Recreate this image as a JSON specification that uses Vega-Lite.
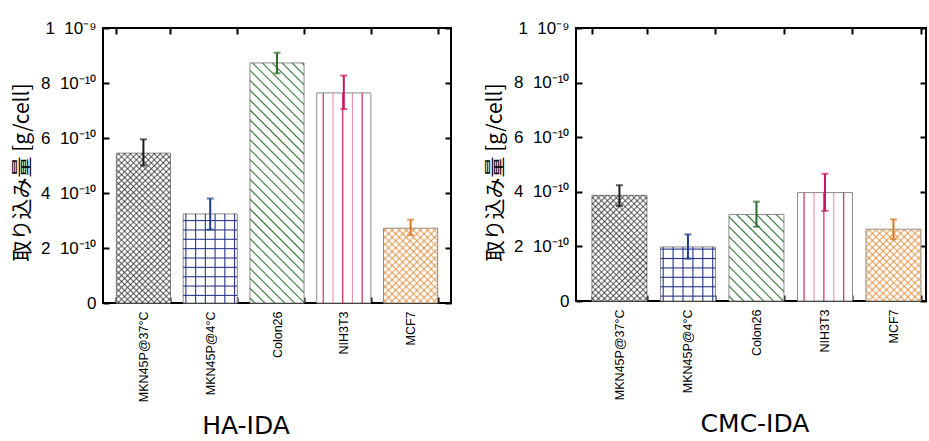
{
"$schema":"https://vega.github.io/schema/vega-lite/v6.json",
"background":"white",
"autosize":{"type":"pad"},
"padding":{"left":10,"top":18,"right":0,"bottom":0},
"config":{"view":{"stroke":"#000","strokeWidth":2},"axis":{"grid":false}},
"datasets":{
"ha":[
{"cell":"MKN45P@37°C","v":5.45e-10,"lo":5.0e-10,"hi":5.95e-10},
{"cell":"MKN45P@4°C","v":3.24e-10,"lo":2.67e-10,"hi":3.8e-10},
{"cell":"Colon26","v":8.73e-10,"lo":8.35e-10,"hi":9.1e-10},
{"cell":"NIH3T3","v":7.64e-10,"lo":7.05e-10,"hi":8.27e-10},
{"cell":"MCF7","v":2.72e-10,"lo":2.47e-10,"hi":3.03e-10}],
"cmc":[
{"cell":"MKN45P@37°C","v":3.87e-10,"lo":3.48e-10,"hi":4.24e-10},
{"cell":"MKN45P@4°C","v":1.98e-10,"lo":1.55e-10,"hi":2.44e-10},
{"cell":"Colon26","v":3.17e-10,"lo":2.72e-10,"hi":3.64e-10},
{"cell":"NIH3T3","v":3.97e-10,"lo":3.30e-10,"hi":4.66e-10},
{"cell":"MCF7","v":2.63e-10,"lo":2.26e-10,"hi":2.99e-10}]
},
"spacing":30,
"hconcat":[
{
"data":{"name":"ha"},
"width":348,"height":275,
"title":{"text":"HA-IDA","orient":"bottom","anchor":"middle","frame":"group","font":"DejaVu Sans","fontSize":25,"fontWeight":"normal","color":"#000","offset":12,"dx":-31},
"encoding":{
"x":{"field":"cell","type":"nominal","sort":null,"scale":{"paddingInner":0.19,"paddingOuter":0.2},"axis":null},
"y":{"field":"v","type":"quantitative","scale":{"domain":[0,1e-9]},"axis":null}},
"resolve":{"axis":{"x":"independent","y":"independent"}},
"layer":[
{"mark":{"type":"bar","fill":"#fff","stroke":"#8a8a8a","strokeWidth":1},
"encoding":{
"x":{"field":"cell","type":"nominal","sort":null,"scale":{"paddingInner":0.19,"paddingOuter":0.2},"axis":{"orient":"bottom","title":null,"labelAngle":-90,"labelAlign":"right","labelBaseline":"middle","labelFont":"Liberation Sans","labelFontSize":12.5,"labelColor":"#000","domain":false,"ticks":true,"tickSize":-6,"tickWidth":2,"tickColor":"#000","tickBand":"extent","labelPadding":14}},
"y":{"field":"v","type":"quantitative","scale":{"domain":[0,1e-9]},"axis":{"orient":"left","title":"取り込み量 [g/cell]","titleFont":"Noto Sans CJK JP","titleFontSize":21,"titleFontWeight":"normal","titleColor":"#000","titlePadding":8,"titleY":144,"values":[0,2e-10,4e-10,6e-10,8e-10,1e-9],"labelExpr":"datum.value < 1e-12 ? '0' : datum.value > 9.9e-10 ? '1\u00a0\u00a010⁻⁹' : round(datum.value*1e10) + '\u00a0\u00a010⁻¹⁰'","labelFont":"Liberation Sans","labelFontSize":17,"labelColor":"#000","domain":false,"tickSize":-6,"tickWidth":2,"tickColor":"#000","labelPadding":13}}}},
{"transform":[{"filter":"datum.cell==='MKN45P@37°C'"}],"mark":{"type":"bar","fill":{"gradient":"linear","x1":0,"y1":0,"x2":0.505,"y2":1.402,"stops":[
{"offset":0.006,"color":"#2220"},{"offset":0.0125,"color":"#222a"},{"offset":0.019,"color":"#2220"},
{"offset":0.031,"color":"#2220"},{"offset":0.0375,"color":"#222a"},{"offset":0.044,"color":"#2220"},
{"offset":0.056,"color":"#2220"},{"offset":0.0625,"color":"#222a"},{"offset":0.069,"color":"#2220"},
{"offset":0.081,"color":"#2220"},{"offset":0.0875,"color":"#222a"},{"offset":0.094,"color":"#2220"},
{"offset":0.106,"color":"#2220"},{"offset":0.1125,"color":"#222a"},{"offset":0.119,"color":"#2220"},
{"offset":0.131,"color":"#2220"},{"offset":0.1375,"color":"#222a"},{"offset":0.144,"color":"#2220"},
{"offset":0.156,"color":"#2220"},{"offset":0.1625,"color":"#222a"},{"offset":0.169,"color":"#2220"},
{"offset":0.181,"color":"#2220"},{"offset":0.1875,"color":"#222a"},{"offset":0.194,"color":"#2220"},
{"offset":0.206,"color":"#2220"},{"offset":0.2125,"color":"#222a"},{"offset":0.219,"color":"#2220"},
{"offset":0.231,"color":"#2220"},{"offset":0.2375,"color":"#222a"},{"offset":0.244,"color":"#2220"},
{"offset":0.256,"color":"#2220"},{"offset":0.2625,"color":"#222a"},{"offset":0.269,"color":"#2220"},
{"offset":0.281,"color":"#2220"},{"offset":0.2875,"color":"#222a"},{"offset":0.294,"color":"#2220"},
{"offset":0.306,"color":"#2220"},{"offset":0.3125,"color":"#222a"},{"offset":0.319,"color":"#2220"},
{"offset":0.331,"color":"#2220"},{"offset":0.3375,"color":"#222a"},{"offset":0.344,"color":"#2220"},
{"offset":0.356,"color":"#2220"},{"offset":0.3625,"color":"#222a"},{"offset":0.369,"color":"#2220"},
{"offset":0.381,"color":"#2220"},{"offset":0.3875,"color":"#222a"},{"offset":0.394,"color":"#2220"},
{"offset":0.406,"color":"#2220"},{"offset":0.4125,"color":"#222a"},{"offset":0.419,"color":"#2220"},
{"offset":0.431,"color":"#2220"},{"offset":0.4375,"color":"#222a"},{"offset":0.444,"color":"#2220"},
{"offset":0.456,"color":"#2220"},{"offset":0.4625,"color":"#222a"},{"offset":0.469,"color":"#2220"},
{"offset":0.481,"color":"#2220"},{"offset":0.4875,"color":"#222a"},{"offset":0.494,"color":"#2220"},
{"offset":0.506,"color":"#2220"},{"offset":0.5125,"color":"#222a"},{"offset":0.519,"color":"#2220"},
{"offset":0.531,"color":"#2220"},{"offset":0.5375,"color":"#222a"},{"offset":0.544,"color":"#2220"},
{"offset":0.556,"color":"#2220"},{"offset":0.5625,"color":"#222a"},{"offset":0.569,"color":"#2220"},
{"offset":0.581,"color":"#2220"},{"offset":0.5875,"color":"#222a"},{"offset":0.594,"color":"#2220"},
{"offset":0.606,"color":"#2220"},{"offset":0.6125,"color":"#222a"},{"offset":0.619,"color":"#2220"},
{"offset":0.631,"color":"#2220"},{"offset":0.6375,"color":"#222a"},{"offset":0.644,"color":"#2220"},
{"offset":0.656,"color":"#2220"},{"offset":0.6625,"color":"#222a"},{"offset":0.669,"color":"#2220"},
{"offset":0.681,"color":"#2220"},{"offset":0.6875,"color":"#222a"},{"offset":0.694,"color":"#2220"},
{"offset":0.706,"color":"#2220"},{"offset":0.7125,"color":"#222a"},{"offset":0.719,"color":"#2220"},
{"offset":0.731,"color":"#2220"},{"offset":0.7375,"color":"#222a"},{"offset":0.744,"color":"#2220"},
{"offset":0.756,"color":"#2220"},{"offset":0.7625,"color":"#222a"},{"offset":0.769,"color":"#2220"},
{"offset":0.781,"color":"#2220"},{"offset":0.7875,"color":"#222a"},{"offset":0.794,"color":"#2220"},
{"offset":0.806,"color":"#2220"},{"offset":0.8125,"color":"#222a"},{"offset":0.819,"color":"#2220"},
{"offset":0.831,"color":"#2220"},{"offset":0.8375,"color":"#222a"},{"offset":0.844,"color":"#2220"},
{"offset":0.856,"color":"#2220"},{"offset":0.8625,"color":"#222a"},{"offset":0.869,"color":"#2220"}]}}},
{"transform":[{"filter":"datum.cell==='MKN45P@37°C'"}],"mark":{"type":"bar","fill":{"gradient":"linear","x1":0,"y1":1,"x2":0.505,"y2":-0.402,"stops":[
{"offset":0.006,"color":"#2220"},{"offset":0.0125,"color":"#222a"},{"offset":0.019,"color":"#2220"},
{"offset":0.031,"color":"#2220"},{"offset":0.0375,"color":"#222a"},{"offset":0.044,"color":"#2220"},
{"offset":0.056,"color":"#2220"},{"offset":0.0625,"color":"#222a"},{"offset":0.069,"color":"#2220"},
{"offset":0.081,"color":"#2220"},{"offset":0.0875,"color":"#222a"},{"offset":0.094,"color":"#2220"},
{"offset":0.106,"color":"#2220"},{"offset":0.1125,"color":"#222a"},{"offset":0.119,"color":"#2220"},
{"offset":0.131,"color":"#2220"},{"offset":0.1375,"color":"#222a"},{"offset":0.144,"color":"#2220"},
{"offset":0.156,"color":"#2220"},{"offset":0.1625,"color":"#222a"},{"offset":0.169,"color":"#2220"},
{"offset":0.181,"color":"#2220"},{"offset":0.1875,"color":"#222a"},{"offset":0.194,"color":"#2220"},
{"offset":0.206,"color":"#2220"},{"offset":0.2125,"color":"#222a"},{"offset":0.219,"color":"#2220"},
{"offset":0.231,"color":"#2220"},{"offset":0.2375,"color":"#222a"},{"offset":0.244,"color":"#2220"},
{"offset":0.256,"color":"#2220"},{"offset":0.2625,"color":"#222a"},{"offset":0.269,"color":"#2220"},
{"offset":0.281,"color":"#2220"},{"offset":0.2875,"color":"#222a"},{"offset":0.294,"color":"#2220"},
{"offset":0.306,"color":"#2220"},{"offset":0.3125,"color":"#222a"},{"offset":0.319,"color":"#2220"},
{"offset":0.331,"color":"#2220"},{"offset":0.3375,"color":"#222a"},{"offset":0.344,"color":"#2220"},
{"offset":0.356,"color":"#2220"},{"offset":0.3625,"color":"#222a"},{"offset":0.369,"color":"#2220"},
{"offset":0.381,"color":"#2220"},{"offset":0.3875,"color":"#222a"},{"offset":0.394,"color":"#2220"},
{"offset":0.406,"color":"#2220"},{"offset":0.4125,"color":"#222a"},{"offset":0.419,"color":"#2220"},
{"offset":0.431,"color":"#2220"},{"offset":0.4375,"color":"#222a"},{"offset":0.444,"color":"#2220"},
{"offset":0.456,"color":"#2220"},{"offset":0.4625,"color":"#222a"},{"offset":0.469,"color":"#2220"},
{"offset":0.481,"color":"#2220"},{"offset":0.4875,"color":"#222a"},{"offset":0.494,"color":"#2220"},
{"offset":0.506,"color":"#2220"},{"offset":0.5125,"color":"#222a"},{"offset":0.519,"color":"#2220"},
{"offset":0.531,"color":"#2220"},{"offset":0.5375,"color":"#222a"},{"offset":0.544,"color":"#2220"},
{"offset":0.556,"color":"#2220"},{"offset":0.5625,"color":"#222a"},{"offset":0.569,"color":"#2220"},
{"offset":0.581,"color":"#2220"},{"offset":0.5875,"color":"#222a"},{"offset":0.594,"color":"#2220"},
{"offset":0.606,"color":"#2220"},{"offset":0.6125,"color":"#222a"},{"offset":0.619,"color":"#2220"},
{"offset":0.631,"color":"#2220"},{"offset":0.6375,"color":"#222a"},{"offset":0.644,"color":"#2220"},
{"offset":0.656,"color":"#2220"},{"offset":0.6625,"color":"#222a"},{"offset":0.669,"color":"#2220"},
{"offset":0.681,"color":"#2220"},{"offset":0.6875,"color":"#222a"},{"offset":0.694,"color":"#2220"},
{"offset":0.706,"color":"#2220"},{"offset":0.7125,"color":"#222a"},{"offset":0.719,"color":"#2220"},
{"offset":0.731,"color":"#2220"},{"offset":0.7375,"color":"#222a"},{"offset":0.744,"color":"#2220"},
{"offset":0.756,"color":"#2220"},{"offset":0.7625,"color":"#222a"},{"offset":0.769,"color":"#2220"},
{"offset":0.781,"color":"#2220"},{"offset":0.7875,"color":"#222a"},{"offset":0.794,"color":"#2220"},
{"offset":0.806,"color":"#2220"},{"offset":0.8125,"color":"#222a"},{"offset":0.819,"color":"#2220"},
{"offset":0.831,"color":"#2220"},{"offset":0.8375,"color":"#222a"},{"offset":0.844,"color":"#2220"},
{"offset":0.856,"color":"#2220"},{"offset":0.8625,"color":"#222a"},{"offset":0.869,"color":"#2220"}]}}},
{"transform":[{"filter":"datum.cell==='MKN45P@4°C'"}],"mark":{"type":"bar","fill":{"gradient":"linear","x1":0,"y1":0,"x2":1,"y2":0,"stops":[
{"offset":0.03,"color":"#2380"},{"offset":0.05,"color":"#238"},{"offset":0.07,"color":"#2380"},
{"offset":0.21,"color":"#2380"},{"offset":0.23,"color":"#238"},{"offset":0.25,"color":"#2380"},
{"offset":0.39,"color":"#2380"},{"offset":0.41,"color":"#238"},{"offset":0.43,"color":"#2380"},
{"offset":0.57,"color":"#2380"},{"offset":0.59,"color":"#238"},{"offset":0.61,"color":"#2380"},
{"offset":0.75,"color":"#2380"},{"offset":0.77,"color":"#238"},{"offset":0.79,"color":"#2380"},
{"offset":0.93,"color":"#2380"},{"offset":0.95,"color":"#238"},{"offset":0.97,"color":"#2380"}]}}},
{"transform":[{"filter":"datum.cell==='MKN45P@4°C'"}],"mark":{"type":"bar","fill":{"gradient":"linear","x1":0,"y1":1,"x2":0,"y2":0,"stops":[
{"offset":0.073,"color":"#2380"},{"offset":0.085,"color":"#238"},{"offset":0.097,"color":"#2380"},
{"offset":0.178,"color":"#2380"},{"offset":0.19,"color":"#238"},{"offset":0.202,"color":"#2380"},
{"offset":0.283,"color":"#2380"},{"offset":0.295,"color":"#238"},{"offset":0.307,"color":"#2380"},
{"offset":0.388,"color":"#2380"},{"offset":0.4,"color":"#238"},{"offset":0.412,"color":"#2380"},
{"offset":0.493,"color":"#2380"},{"offset":0.505,"color":"#238"},{"offset":0.517,"color":"#2380"},
{"offset":0.598,"color":"#2380"},{"offset":0.61,"color":"#238"},{"offset":0.622,"color":"#2380"},
{"offset":0.703,"color":"#2380"},{"offset":0.715,"color":"#238"},{"offset":0.727,"color":"#2380"},
{"offset":0.808,"color":"#2380"},{"offset":0.82,"color":"#238"},{"offset":0.832,"color":"#2380"},
{"offset":0.913,"color":"#2380"},{"offset":0.925,"color":"#238"},{"offset":0.937,"color":"#2380"}]}}},
{"transform":[{"filter":"datum.cell==='Colon26'"}],"mark":{"type":"bar","fill":{"gradient":"linear","x1":0,"y1":1,"x2":0.353,"y2":-0.570,"stops":[
{"offset":0.0085,"color":"#3730"},{"offset":0.0125,"color":"#373"},{"offset":0.0165,"color":"#3730"},
{"offset":0.0335,"color":"#3730"},{"offset":0.0375,"color":"#373"},{"offset":0.0415,"color":"#3730"},
{"offset":0.0585,"color":"#3730"},{"offset":0.0625,"color":"#373"},{"offset":0.0665,"color":"#3730"},
{"offset":0.0835,"color":"#3730"},{"offset":0.0875,"color":"#373"},{"offset":0.0915,"color":"#3730"},
{"offset":0.1085,"color":"#3730"},{"offset":0.1125,"color":"#373"},{"offset":0.1165,"color":"#3730"},
{"offset":0.1335,"color":"#3730"},{"offset":0.1375,"color":"#373"},{"offset":0.1415,"color":"#3730"},
{"offset":0.1585,"color":"#3730"},{"offset":0.1625,"color":"#373"},{"offset":0.1665,"color":"#3730"},
{"offset":0.1835,"color":"#3730"},{"offset":0.1875,"color":"#373"},{"offset":0.1915,"color":"#3730"},
{"offset":0.2085,"color":"#3730"},{"offset":0.2125,"color":"#373"},{"offset":0.2165,"color":"#3730"},
{"offset":0.2335,"color":"#3730"},{"offset":0.2375,"color":"#373"},{"offset":0.2415,"color":"#3730"},
{"offset":0.2585,"color":"#3730"},{"offset":0.2625,"color":"#373"},{"offset":0.2665,"color":"#3730"},
{"offset":0.2835,"color":"#3730"},{"offset":0.2875,"color":"#373"},{"offset":0.2915,"color":"#3730"},
{"offset":0.3085,"color":"#3730"},{"offset":0.3125,"color":"#373"},{"offset":0.3165,"color":"#3730"},
{"offset":0.3335,"color":"#3730"},{"offset":0.3375,"color":"#373"},{"offset":0.3415,"color":"#3730"},
{"offset":0.3585,"color":"#3730"},{"offset":0.3625,"color":"#373"},{"offset":0.3665,"color":"#3730"},
{"offset":0.3835,"color":"#3730"},{"offset":0.3875,"color":"#373"},{"offset":0.3915,"color":"#3730"},
{"offset":0.4085,"color":"#3730"},{"offset":0.4125,"color":"#373"},{"offset":0.4165,"color":"#3730"},
{"offset":0.4335,"color":"#3730"},{"offset":0.4375,"color":"#373"},{"offset":0.4415,"color":"#3730"},
{"offset":0.4585,"color":"#3730"},{"offset":0.4625,"color":"#373"},{"offset":0.4665,"color":"#3730"},
{"offset":0.4835,"color":"#3730"},{"offset":0.4875,"color":"#373"},{"offset":0.4915,"color":"#3730"},
{"offset":0.5085,"color":"#3730"},{"offset":0.5125,"color":"#373"},{"offset":0.5165,"color":"#3730"},
{"offset":0.5335,"color":"#3730"},{"offset":0.5375,"color":"#373"},{"offset":0.5415,"color":"#3730"},
{"offset":0.5585,"color":"#3730"},{"offset":0.5625,"color":"#373"},{"offset":0.5665,"color":"#3730"},
{"offset":0.5835,"color":"#3730"},{"offset":0.5875,"color":"#373"},{"offset":0.5915,"color":"#3730"},
{"offset":0.6085,"color":"#3730"},{"offset":0.6125,"color":"#373"},{"offset":0.6165,"color":"#3730"},
{"offset":0.6335,"color":"#3730"},{"offset":0.6375,"color":"#373"},{"offset":0.6415,"color":"#3730"},
{"offset":0.6585,"color":"#3730"},{"offset":0.6625,"color":"#373"},{"offset":0.6665,"color":"#3730"},
{"offset":0.6835,"color":"#3730"},{"offset":0.6875,"color":"#373"},{"offset":0.6915,"color":"#3730"},
{"offset":0.7085,"color":"#3730"},{"offset":0.7125,"color":"#373"},{"offset":0.7165,"color":"#3730"},
{"offset":0.7335,"color":"#3730"},{"offset":0.7375,"color":"#373"},{"offset":0.7415,"color":"#3730"}]}}},
{"transform":[{"filter":"datum.cell==='NIH3T3'"}],"mark":{"type":"bar","fill":{"gradient":"linear","x1":0,"y1":0,"x2":1,"y2":0,"stops":[
{"offset":0.10,"color":"#c150"},{"offset":0.12,"color":"#c15"},{"offset":0.14,"color":"#c150"},
{"offset":0.28,"color":"#c150"},{"offset":0.30,"color":"#c157"},{"offset":0.32,"color":"#c150"},
{"offset":0.46,"color":"#c150"},{"offset":0.48,"color":"#c15"},{"offset":0.50,"color":"#c150"},
{"offset":0.64,"color":"#c150"},{"offset":0.66,"color":"#c157"},{"offset":0.68,"color":"#c150"},
{"offset":0.82,"color":"#c150"},{"offset":0.84,"color":"#c15"},{"offset":0.86,"color":"#c150"}]}}},
{"transform":[{"filter":"datum.cell==='MCF7'"}],"mark":{"type":"bar","fill":{"gradient":"linear","x1":0,"y1":0,"x2":1.794,"y2":2.486,"stops":[
{"offset":0.006,"color":"#d830"},{"offset":0.0125,"color":"#d83a"},{"offset":0.019,"color":"#d830"},
{"offset":0.031,"color":"#d830"},{"offset":0.0375,"color":"#d83a"},{"offset":0.044,"color":"#d830"},
{"offset":0.056,"color":"#d830"},{"offset":0.0625,"color":"#d83a"},{"offset":0.069,"color":"#d830"},
{"offset":0.081,"color":"#d830"},{"offset":0.0875,"color":"#d83a"},{"offset":0.094,"color":"#d830"},
{"offset":0.106,"color":"#d830"},{"offset":0.1125,"color":"#d83a"},{"offset":0.119,"color":"#d830"},
{"offset":0.131,"color":"#d830"},{"offset":0.1375,"color":"#d83a"},{"offset":0.144,"color":"#d830"},
{"offset":0.156,"color":"#d830"},{"offset":0.1625,"color":"#d83a"},{"offset":0.169,"color":"#d830"},
{"offset":0.181,"color":"#d830"},{"offset":0.1875,"color":"#d83a"},{"offset":0.194,"color":"#d830"},
{"offset":0.206,"color":"#d830"},{"offset":0.2125,"color":"#d83a"},{"offset":0.219,"color":"#d830"},
{"offset":0.231,"color":"#d830"},{"offset":0.2375,"color":"#d83a"},{"offset":0.244,"color":"#d830"},
{"offset":0.256,"color":"#d830"},{"offset":0.2625,"color":"#d83a"},{"offset":0.269,"color":"#d830"},
{"offset":0.281,"color":"#d830"},{"offset":0.2875,"color":"#d83a"},{"offset":0.294,"color":"#d830"},
{"offset":0.306,"color":"#d830"},{"offset":0.3125,"color":"#d83a"},{"offset":0.319,"color":"#d830"},
{"offset":0.331,"color":"#d830"},{"offset":0.3375,"color":"#d83a"},{"offset":0.344,"color":"#d830"},
{"offset":0.356,"color":"#d830"},{"offset":0.3625,"color":"#d83a"},{"offset":0.369,"color":"#d830"},
{"offset":0.381,"color":"#d830"},{"offset":0.3875,"color":"#d83a"},{"offset":0.394,"color":"#d830"},
{"offset":0.406,"color":"#d830"},{"offset":0.4125,"color":"#d83a"},{"offset":0.419,"color":"#d830"},
{"offset":0.431,"color":"#d830"},{"offset":0.4375,"color":"#d83a"},{"offset":0.444,"color":"#d830"}]}}},
{"transform":[{"filter":"datum.cell==='MCF7'"}],"mark":{"type":"bar","fill":{"gradient":"linear","x1":0,"y1":1,"x2":1.794,"y2":-1.486,"stops":[
{"offset":0.006,"color":"#d830"},{"offset":0.0125,"color":"#d83a"},{"offset":0.019,"color":"#d830"},
{"offset":0.031,"color":"#d830"},{"offset":0.0375,"color":"#d83a"},{"offset":0.044,"color":"#d830"},
{"offset":0.056,"color":"#d830"},{"offset":0.0625,"color":"#d83a"},{"offset":0.069,"color":"#d830"},
{"offset":0.081,"color":"#d830"},{"offset":0.0875,"color":"#d83a"},{"offset":0.094,"color":"#d830"},
{"offset":0.106,"color":"#d830"},{"offset":0.1125,"color":"#d83a"},{"offset":0.119,"color":"#d830"},
{"offset":0.131,"color":"#d830"},{"offset":0.1375,"color":"#d83a"},{"offset":0.144,"color":"#d830"},
{"offset":0.156,"color":"#d830"},{"offset":0.1625,"color":"#d83a"},{"offset":0.169,"color":"#d830"},
{"offset":0.181,"color":"#d830"},{"offset":0.1875,"color":"#d83a"},{"offset":0.194,"color":"#d830"},
{"offset":0.206,"color":"#d830"},{"offset":0.2125,"color":"#d83a"},{"offset":0.219,"color":"#d830"},
{"offset":0.231,"color":"#d830"},{"offset":0.2375,"color":"#d83a"},{"offset":0.244,"color":"#d830"},
{"offset":0.256,"color":"#d830"},{"offset":0.2625,"color":"#d83a"},{"offset":0.269,"color":"#d830"},
{"offset":0.281,"color":"#d830"},{"offset":0.2875,"color":"#d83a"},{"offset":0.294,"color":"#d830"},
{"offset":0.306,"color":"#d830"},{"offset":0.3125,"color":"#d83a"},{"offset":0.319,"color":"#d830"},
{"offset":0.331,"color":"#d830"},{"offset":0.3375,"color":"#d83a"},{"offset":0.344,"color":"#d830"},
{"offset":0.356,"color":"#d830"},{"offset":0.3625,"color":"#d83a"},{"offset":0.369,"color":"#d830"},
{"offset":0.381,"color":"#d830"},{"offset":0.3875,"color":"#d83a"},{"offset":0.394,"color":"#d830"},
{"offset":0.406,"color":"#d830"},{"offset":0.4125,"color":"#d83a"},{"offset":0.419,"color":"#d830"},
{"offset":0.431,"color":"#d830"},{"offset":0.4375,"color":"#d83a"},{"offset":0.444,"color":"#d830"}]}}},
{"mark":{"type":"errorbar","thickness":2,"ticks":{"size":7,"thickness":2}},
"encoding":{
"y":{"field":"lo","type":"quantitative","scale":{"domain":[0,1e-9]},"axis":null},
"y2":{"field":"hi"},
"color":{"field":"cell","type":"nominal","scale":{"domain":["MKN45P@37°C","MKN45P@4°C","Colon26","NIH3T3","MCF7"],"range":["#1a1a1a","#1f3a8c","#2d6b2d","#c8175d","#d9781c"]},"legend":null}}},
{"mark":{"type":"bar","opacity":0},
"encoding":{
"x":{"field":"cell","type":"nominal","sort":null,"scale":{"paddingInner":0.19,"paddingOuter":0.2},"axis":{"orient":"top","title":null,"labels":false,"domain":false,"tickSize":-6,"tickWidth":2,"tickColor":"#000","tickBand":"extent"}},
"y":{"field":"v","type":"quantitative","scale":{"domain":[0,1e-9]},"axis":{"orient":"right","title":null,"labels":false,"domain":false,"tickSize":-6,"tickWidth":2,"tickColor":"#000","values":[0,2e-10,4e-10,6e-10,8e-10,1e-9]}}}}
]
},
{
"data":{"name":"cmc"},
"width":350,"height":273,
"title":{"text":"CMC-IDA","orient":"bottom","anchor":"middle","frame":"group","font":"DejaVu Sans","fontSize":25,"fontWeight":"normal","color":"#000","offset":12,"dx":4},
"encoding":{
"x":{"field":"cell","type":"nominal","sort":null,"scale":{"paddingInner":0.197,"paddingOuter":0.153,"align":0.76},"axis":null},
"y":{"field":"v","type":"quantitative","scale":{"domain":[0,1e-9]},"axis":null}},
"resolve":{"axis":{"x":"independent","y":"independent"}},
"layer":[
{"mark":{"type":"bar","fill":"#fff","stroke":"#8a8a8a","strokeWidth":1},
"encoding":{
"x":{"field":"cell","type":"nominal","sort":null,"scale":{"paddingInner":0.197,"paddingOuter":0.153,"align":0.76},"axis":{"orient":"bottom","title":null,"labelAngle":-90,"labelAlign":"right","labelBaseline":"middle","labelFont":"Liberation Sans","labelFontSize":12.5,"labelColor":"#000","domain":false,"ticks":true,"tickSize":-6,"tickWidth":2,"tickColor":"#000","tickBand":"extent","labelPadding":14}},
"y":{"field":"v","type":"quantitative","scale":{"domain":[0,1e-9]},"axis":{"orient":"left","title":"取り込み量 [g/cell]","titleFont":"Noto Sans CJK JP","titleFontSize":21,"titleFontWeight":"normal","titleColor":"#000","titlePadding":8,"titleY":144,"values":[0,2e-10,4e-10,6e-10,8e-10,1e-9],"labelExpr":"datum.value < 1e-12 ? '0' : datum.value > 9.9e-10 ? '1\u00a0\u00a010⁻⁹' : round(datum.value*1e10) + '\u00a0\u00a010⁻¹⁰'","labelFont":"Liberation Sans","labelFontSize":17,"labelColor":"#000","domain":false,"tickSize":-6,"tickWidth":2,"tickColor":"#000","labelPadding":13}}}},
{"transform":[{"filter":"datum.cell==='MKN45P@37°C'"}],"mark":{"type":"bar","fill":{"gradient":"linear","x1":0,"y1":0,"x2":0.920,"y2":1.769,"stops":[
{"offset":0.006,"color":"#2220"},{"offset":0.0125,"color":"#222a"},{"offset":0.019,"color":"#2220"},
{"offset":0.031,"color":"#2220"},{"offset":0.0375,"color":"#222a"},{"offset":0.044,"color":"#2220"},
{"offset":0.056,"color":"#2220"},{"offset":0.0625,"color":"#222a"},{"offset":0.069,"color":"#2220"},
{"offset":0.081,"color":"#2220"},{"offset":0.0875,"color":"#222a"},{"offset":0.094,"color":"#2220"},
{"offset":0.106,"color":"#2220"},{"offset":0.1125,"color":"#222a"},{"offset":0.119,"color":"#2220"},
{"offset":0.131,"color":"#2220"},{"offset":0.1375,"color":"#222a"},{"offset":0.144,"color":"#2220"},
{"offset":0.156,"color":"#2220"},{"offset":0.1625,"color":"#222a"},{"offset":0.169,"color":"#2220"},
{"offset":0.181,"color":"#2220"},{"offset":0.1875,"color":"#222a"},{"offset":0.194,"color":"#2220"},
{"offset":0.206,"color":"#2220"},{"offset":0.2125,"color":"#222a"},{"offset":0.219,"color":"#2220"},
{"offset":0.231,"color":"#2220"},{"offset":0.2375,"color":"#222a"},{"offset":0.244,"color":"#2220"},
{"offset":0.256,"color":"#2220"},{"offset":0.2625,"color":"#222a"},{"offset":0.269,"color":"#2220"},
{"offset":0.281,"color":"#2220"},{"offset":0.2875,"color":"#222a"},{"offset":0.294,"color":"#2220"},
{"offset":0.306,"color":"#2220"},{"offset":0.3125,"color":"#222a"},{"offset":0.319,"color":"#2220"},
{"offset":0.331,"color":"#2220"},{"offset":0.3375,"color":"#222a"},{"offset":0.344,"color":"#2220"},
{"offset":0.356,"color":"#2220"},{"offset":0.3625,"color":"#222a"},{"offset":0.369,"color":"#2220"},
{"offset":0.381,"color":"#2220"},{"offset":0.3875,"color":"#222a"},{"offset":0.394,"color":"#2220"},
{"offset":0.406,"color":"#2220"},{"offset":0.4125,"color":"#222a"},{"offset":0.419,"color":"#2220"},
{"offset":0.431,"color":"#2220"},{"offset":0.4375,"color":"#222a"},{"offset":0.444,"color":"#2220"},
{"offset":0.456,"color":"#2220"},{"offset":0.4625,"color":"#222a"},{"offset":0.469,"color":"#2220"},
{"offset":0.481,"color":"#2220"},{"offset":0.4875,"color":"#222a"},{"offset":0.494,"color":"#2220"},
{"offset":0.506,"color":"#2220"},{"offset":0.5125,"color":"#222a"},{"offset":0.519,"color":"#2220"},
{"offset":0.531,"color":"#2220"},{"offset":0.5375,"color":"#222a"},{"offset":0.544,"color":"#2220"},
{"offset":0.556,"color":"#2220"},{"offset":0.5625,"color":"#222a"},{"offset":0.569,"color":"#2220"},
{"offset":0.581,"color":"#2220"},{"offset":0.5875,"color":"#222a"},{"offset":0.594,"color":"#2220"},
{"offset":0.606,"color":"#2220"},{"offset":0.6125,"color":"#222a"},{"offset":0.619,"color":"#2220"},
{"offset":0.631,"color":"#2220"},{"offset":0.6375,"color":"#222a"},{"offset":0.644,"color":"#2220"},
{"offset":0.656,"color":"#2220"},{"offset":0.6625,"color":"#222a"},{"offset":0.669,"color":"#2220"}]}}},
{"transform":[{"filter":"datum.cell==='MKN45P@37°C'"}],"mark":{"type":"bar","fill":{"gradient":"linear","x1":0,"y1":1,"x2":0.920,"y2":-0.769,"stops":[
{"offset":0.006,"color":"#2220"},{"offset":0.0125,"color":"#222a"},{"offset":0.019,"color":"#2220"},
{"offset":0.031,"color":"#2220"},{"offset":0.0375,"color":"#222a"},{"offset":0.044,"color":"#2220"},
{"offset":0.056,"color":"#2220"},{"offset":0.0625,"color":"#222a"},{"offset":0.069,"color":"#2220"},
{"offset":0.081,"color":"#2220"},{"offset":0.0875,"color":"#222a"},{"offset":0.094,"color":"#2220"},
{"offset":0.106,"color":"#2220"},{"offset":0.1125,"color":"#222a"},{"offset":0.119,"color":"#2220"},
{"offset":0.131,"color":"#2220"},{"offset":0.1375,"color":"#222a"},{"offset":0.144,"color":"#2220"},
{"offset":0.156,"color":"#2220"},{"offset":0.1625,"color":"#222a"},{"offset":0.169,"color":"#2220"},
{"offset":0.181,"color":"#2220"},{"offset":0.1875,"color":"#222a"},{"offset":0.194,"color":"#2220"},
{"offset":0.206,"color":"#2220"},{"offset":0.2125,"color":"#222a"},{"offset":0.219,"color":"#2220"},
{"offset":0.231,"color":"#2220"},{"offset":0.2375,"color":"#222a"},{"offset":0.244,"color":"#2220"},
{"offset":0.256,"color":"#2220"},{"offset":0.2625,"color":"#222a"},{"offset":0.269,"color":"#2220"},
{"offset":0.281,"color":"#2220"},{"offset":0.2875,"color":"#222a"},{"offset":0.294,"color":"#2220"},
{"offset":0.306,"color":"#2220"},{"offset":0.3125,"color":"#222a"},{"offset":0.319,"color":"#2220"},
{"offset":0.331,"color":"#2220"},{"offset":0.3375,"color":"#222a"},{"offset":0.344,"color":"#2220"},
{"offset":0.356,"color":"#2220"},{"offset":0.3625,"color":"#222a"},{"offset":0.369,"color":"#2220"},
{"offset":0.381,"color":"#2220"},{"offset":0.3875,"color":"#222a"},{"offset":0.394,"color":"#2220"},
{"offset":0.406,"color":"#2220"},{"offset":0.4125,"color":"#222a"},{"offset":0.419,"color":"#2220"},
{"offset":0.431,"color":"#2220"},{"offset":0.4375,"color":"#222a"},{"offset":0.444,"color":"#2220"},
{"offset":0.456,"color":"#2220"},{"offset":0.4625,"color":"#222a"},{"offset":0.469,"color":"#2220"},
{"offset":0.481,"color":"#2220"},{"offset":0.4875,"color":"#222a"},{"offset":0.494,"color":"#2220"},
{"offset":0.506,"color":"#2220"},{"offset":0.5125,"color":"#222a"},{"offset":0.519,"color":"#2220"},
{"offset":0.531,"color":"#2220"},{"offset":0.5375,"color":"#222a"},{"offset":0.544,"color":"#2220"},
{"offset":0.556,"color":"#2220"},{"offset":0.5625,"color":"#222a"},{"offset":0.569,"color":"#2220"},
{"offset":0.581,"color":"#2220"},{"offset":0.5875,"color":"#222a"},{"offset":0.594,"color":"#2220"},
{"offset":0.606,"color":"#2220"},{"offset":0.6125,"color":"#222a"},{"offset":0.619,"color":"#2220"},
{"offset":0.631,"color":"#2220"},{"offset":0.6375,"color":"#222a"},{"offset":0.644,"color":"#2220"},
{"offset":0.656,"color":"#2220"},{"offset":0.6625,"color":"#222a"},{"offset":0.669,"color":"#2220"}]}}},
{"transform":[{"filter":"datum.cell==='MKN45P@4°C'"}],"mark":{"type":"bar","fill":{"gradient":"linear","x1":0,"y1":0,"x2":1,"y2":0,"stops":[
{"offset":0.03,"color":"#2380"},{"offset":0.05,"color":"#238"},{"offset":0.07,"color":"#2380"},
{"offset":0.21,"color":"#2380"},{"offset":0.23,"color":"#238"},{"offset":0.25,"color":"#2380"},
{"offset":0.39,"color":"#2380"},{"offset":0.41,"color":"#238"},{"offset":0.43,"color":"#2380"},
{"offset":0.57,"color":"#2380"},{"offset":0.59,"color":"#238"},{"offset":0.61,"color":"#2380"},
{"offset":0.75,"color":"#2380"},{"offset":0.77,"color":"#238"},{"offset":0.79,"color":"#2380"},
{"offset":0.93,"color":"#2380"},{"offset":0.95,"color":"#238"},{"offset":0.97,"color":"#2380"}]}}},
{"transform":[{"filter":"datum.cell==='MKN45P@4°C'"}],"mark":{"type":"bar","fill":{"gradient":"linear","x1":0,"y1":1,"x2":0,"y2":0,"stops":[
{"offset":0.07,"color":"#2380"},{"offset":0.09,"color":"#238"},{"offset":0.11,"color":"#2380"},
{"offset":0.244,"color":"#2380"},{"offset":0.264,"color":"#238"},{"offset":0.284,"color":"#2380"},
{"offset":0.418,"color":"#2380"},{"offset":0.438,"color":"#238"},{"offset":0.458,"color":"#2380"},
{"offset":0.592,"color":"#2380"},{"offset":0.612,"color":"#238"},{"offset":0.632,"color":"#2380"},
{"offset":0.766,"color":"#2380"},{"offset":0.786,"color":"#238"},{"offset":0.806,"color":"#2380"},
{"offset":0.94,"color":"#2380"},{"offset":0.96,"color":"#238"},{"offset":0.98,"color":"#2380"}]}}},
{"transform":[{"filter":"datum.cell==='Colon26'"}],"mark":{"type":"bar","fill":{"gradient":"linear","x1":0,"y1":1,"x2":2.073,"y2":-2.260,"stops":[
{"offset":0.0085,"color":"#3730"},{"offset":0.0125,"color":"#373"},{"offset":0.0165,"color":"#3730"},
{"offset":0.0335,"color":"#3730"},{"offset":0.0375,"color":"#373"},{"offset":0.0415,"color":"#3730"},
{"offset":0.0585,"color":"#3730"},{"offset":0.0625,"color":"#373"},{"offset":0.0665,"color":"#3730"},
{"offset":0.0835,"color":"#3730"},{"offset":0.0875,"color":"#373"},{"offset":0.0915,"color":"#3730"},
{"offset":0.1085,"color":"#3730"},{"offset":0.1125,"color":"#373"},{"offset":0.1165,"color":"#3730"},
{"offset":0.1335,"color":"#3730"},{"offset":0.1375,"color":"#373"},{"offset":0.1415,"color":"#3730"},
{"offset":0.1585,"color":"#3730"},{"offset":0.1625,"color":"#373"},{"offset":0.1665,"color":"#3730"},
{"offset":0.1835,"color":"#3730"},{"offset":0.1875,"color":"#373"},{"offset":0.1915,"color":"#3730"},
{"offset":0.2085,"color":"#3730"},{"offset":0.2125,"color":"#373"},{"offset":0.2165,"color":"#3730"},
{"offset":0.2335,"color":"#3730"},{"offset":0.2375,"color":"#373"},{"offset":0.2415,"color":"#3730"},
{"offset":0.2585,"color":"#3730"},{"offset":0.2625,"color":"#373"},{"offset":0.2665,"color":"#3730"},
{"offset":0.2835,"color":"#3730"},{"offset":0.2875,"color":"#373"},{"offset":0.2915,"color":"#3730"},
{"offset":0.3085,"color":"#3730"},{"offset":0.3125,"color":"#373"},{"offset":0.3165,"color":"#3730"},
{"offset":0.3335,"color":"#3730"},{"offset":0.3375,"color":"#373"},{"offset":0.3415,"color":"#3730"}]}}},
{"transform":[{"filter":"datum.cell==='NIH3T3'"}],"mark":{"type":"bar","fill":{"gradient":"linear","x1":0,"y1":0,"x2":1,"y2":0,"stops":[
{"offset":0.10,"color":"#c150"},{"offset":0.12,"color":"#c15"},{"offset":0.14,"color":"#c150"},
{"offset":0.28,"color":"#c150"},{"offset":0.30,"color":"#c157"},{"offset":0.32,"color":"#c150"},
{"offset":0.46,"color":"#c150"},{"offset":0.48,"color":"#c15"},{"offset":0.50,"color":"#c150"},
{"offset":0.64,"color":"#c150"},{"offset":0.66,"color":"#c157"},{"offset":0.68,"color":"#c150"},
{"offset":0.82,"color":"#c150"},{"offset":0.84,"color":"#c15"},{"offset":0.86,"color":"#c150"}]}}},
{"transform":[{"filter":"datum.cell==='MCF7'"}],"mark":{"type":"bar","fill":{"gradient":"linear","x1":0,"y1":0,"x2":1.901,"y2":2.482,"stops":[
{"offset":0.006,"color":"#d830"},{"offset":0.0125,"color":"#d83a"},{"offset":0.019,"color":"#d830"},
{"offset":0.031,"color":"#d830"},{"offset":0.0375,"color":"#d83a"},{"offset":0.044,"color":"#d830"},
{"offset":0.056,"color":"#d830"},{"offset":0.0625,"color":"#d83a"},{"offset":0.069,"color":"#d830"},
{"offset":0.081,"color":"#d830"},{"offset":0.0875,"color":"#d83a"},{"offset":0.094,"color":"#d830"},
{"offset":0.106,"color":"#d830"},{"offset":0.1125,"color":"#d83a"},{"offset":0.119,"color":"#d830"},
{"offset":0.131,"color":"#d830"},{"offset":0.1375,"color":"#d83a"},{"offset":0.144,"color":"#d830"},
{"offset":0.156,"color":"#d830"},{"offset":0.1625,"color":"#d83a"},{"offset":0.169,"color":"#d830"},
{"offset":0.181,"color":"#d830"},{"offset":0.1875,"color":"#d83a"},{"offset":0.194,"color":"#d830"},
{"offset":0.206,"color":"#d830"},{"offset":0.2125,"color":"#d83a"},{"offset":0.219,"color":"#d830"},
{"offset":0.231,"color":"#d830"},{"offset":0.2375,"color":"#d83a"},{"offset":0.244,"color":"#d830"},
{"offset":0.256,"color":"#d830"},{"offset":0.2625,"color":"#d83a"},{"offset":0.269,"color":"#d830"},
{"offset":0.281,"color":"#d830"},{"offset":0.2875,"color":"#d83a"},{"offset":0.294,"color":"#d830"},
{"offset":0.306,"color":"#d830"},{"offset":0.3125,"color":"#d83a"},{"offset":0.319,"color":"#d830"},
{"offset":0.331,"color":"#d830"},{"offset":0.3375,"color":"#d83a"},{"offset":0.344,"color":"#d830"},
{"offset":0.356,"color":"#d830"},{"offset":0.3625,"color":"#d83a"},{"offset":0.369,"color":"#d830"},
{"offset":0.381,"color":"#d830"},{"offset":0.3875,"color":"#d83a"},{"offset":0.394,"color":"#d830"},
{"offset":0.406,"color":"#d830"},{"offset":0.4125,"color":"#d83a"},{"offset":0.419,"color":"#d830"},
{"offset":0.431,"color":"#d830"},{"offset":0.4375,"color":"#d83a"},{"offset":0.444,"color":"#d830"}]}}},
{"transform":[{"filter":"datum.cell==='MCF7'"}],"mark":{"type":"bar","fill":{"gradient":"linear","x1":0,"y1":1,"x2":1.901,"y2":-1.482,"stops":[
{"offset":0.006,"color":"#d830"},{"offset":0.0125,"color":"#d83a"},{"offset":0.019,"color":"#d830"},
{"offset":0.031,"color":"#d830"},{"offset":0.0375,"color":"#d83a"},{"offset":0.044,"color":"#d830"},
{"offset":0.056,"color":"#d830"},{"offset":0.0625,"color":"#d83a"},{"offset":0.069,"color":"#d830"},
{"offset":0.081,"color":"#d830"},{"offset":0.0875,"color":"#d83a"},{"offset":0.094,"color":"#d830"},
{"offset":0.106,"color":"#d830"},{"offset":0.1125,"color":"#d83a"},{"offset":0.119,"color":"#d830"},
{"offset":0.131,"color":"#d830"},{"offset":0.1375,"color":"#d83a"},{"offset":0.144,"color":"#d830"},
{"offset":0.156,"color":"#d830"},{"offset":0.1625,"color":"#d83a"},{"offset":0.169,"color":"#d830"},
{"offset":0.181,"color":"#d830"},{"offset":0.1875,"color":"#d83a"},{"offset":0.194,"color":"#d830"},
{"offset":0.206,"color":"#d830"},{"offset":0.2125,"color":"#d83a"},{"offset":0.219,"color":"#d830"},
{"offset":0.231,"color":"#d830"},{"offset":0.2375,"color":"#d83a"},{"offset":0.244,"color":"#d830"},
{"offset":0.256,"color":"#d830"},{"offset":0.2625,"color":"#d83a"},{"offset":0.269,"color":"#d830"},
{"offset":0.281,"color":"#d830"},{"offset":0.2875,"color":"#d83a"},{"offset":0.294,"color":"#d830"},
{"offset":0.306,"color":"#d830"},{"offset":0.3125,"color":"#d83a"},{"offset":0.319,"color":"#d830"},
{"offset":0.331,"color":"#d830"},{"offset":0.3375,"color":"#d83a"},{"offset":0.344,"color":"#d830"},
{"offset":0.356,"color":"#d830"},{"offset":0.3625,"color":"#d83a"},{"offset":0.369,"color":"#d830"},
{"offset":0.381,"color":"#d830"},{"offset":0.3875,"color":"#d83a"},{"offset":0.394,"color":"#d830"},
{"offset":0.406,"color":"#d830"},{"offset":0.4125,"color":"#d83a"},{"offset":0.419,"color":"#d830"},
{"offset":0.431,"color":"#d830"},{"offset":0.4375,"color":"#d83a"},{"offset":0.444,"color":"#d830"}]}}},
{"mark":{"type":"errorbar","thickness":2,"ticks":{"size":7,"thickness":2}},
"encoding":{
"y":{"field":"lo","type":"quantitative","scale":{"domain":[0,1e-9]},"axis":null},
"y2":{"field":"hi"},
"color":{"field":"cell","type":"nominal","scale":{"domain":["MKN45P@37°C","MKN45P@4°C","Colon26","NIH3T3","MCF7"],"range":["#1a1a1a","#1f3a8c","#2d6b2d","#c8175d","#d9781c"]},"legend":null}}},
{"mark":{"type":"bar","opacity":0},
"encoding":{
"x":{"field":"cell","type":"nominal","sort":null,"scale":{"paddingInner":0.197,"paddingOuter":0.153,"align":0.76},"axis":{"orient":"top","title":null,"labels":false,"domain":false,"tickSize":-6,"tickWidth":2,"tickColor":"#000","tickBand":"extent"}},
"y":{"field":"v","type":"quantitative","scale":{"domain":[0,1e-9]},"axis":{"orient":"right","title":null,"labels":false,"domain":false,"tickSize":-6,"tickWidth":2,"tickColor":"#000","values":[0,2e-10,4e-10,6e-10,8e-10,1e-9]}}}}
]
}
]
}
